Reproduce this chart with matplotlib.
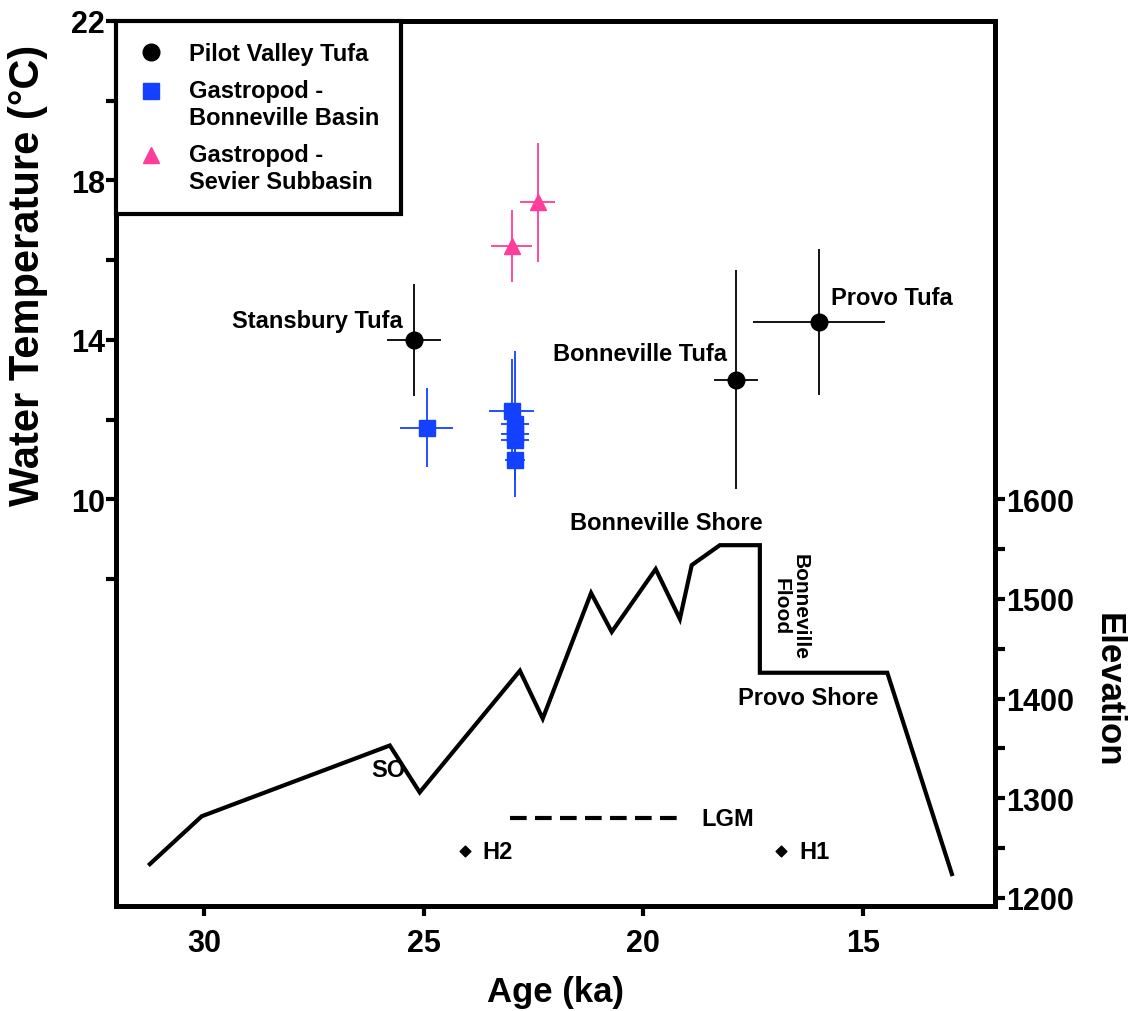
import matplotlib
matplotlib.use("Agg")
import numpy as np
import matplotlib.pyplot as plt
from matplotlib.lines import Line2D
from matplotlib.legend_handler import HandlerLine2D
from matplotlib.ticker import FixedLocator

plt.rcParams['font.family'] = ['Liberation Sans', 'DejaVu Sans']
plt.rcParams['font.weight'] = 'bold'

BLUE = '#1440ff'
PINK = '#ff3c9a'

# tufa temperatures (age ka, temp C, errors)
tufa_age = [25.22, 17.9, 16.0]
tufa_temp = [14.0, 13.0, 14.45]
tufa_age_err = [0.62, 0.5, 1.5]
tufa_temp_err = [1.4, 2.75, 1.83]
tufa_names = ['Stansbury Tufa', 'Bonneville Tufa', 'Provo Tufa']

# gastropods, Bonneville basin
bb_age = [24.93, 23.0, 22.92, 22.92, 22.92, 22.92]
bb_temp = [11.8, 12.22, 11.89, 11.65, 11.48, 10.98]
bb_age_err = [0.6, 0.51, 0.31, 0.31, 0.31, 0.22]
bb_temp_err = [1.0, 1.3, 1.83, 0.6, 0.7, 0.5]

# gastropods, Sevier subbasin
sv_age = [23.0, 22.4]
sv_temp = [16.35, 17.45]
sv_age_err = [0.46, 0.4]
sv_temp_err = [0.9, 1.5]

# lake level curve (age ka, elevation m)
lake_age = [31.23, 30.05, 25.77, 25.09, 22.81, 22.29, 21.19, 20.72, 19.72,
            19.17, 18.9, 18.26, 17.35, 17.35, 14.45, 12.98]
lake_elev = [1234, 1282, 1353, 1306, 1428, 1380, 1506, 1467, 1530,
             1480, 1534, 1554, 1554, 1426, 1426, 1224]

lgm_age = [23.04, 19.06]
lgm_elev = 1280
heinrich_age = [24.06, 16.86]
heinrich_names = ['H2', 'H1']
heinrich_elev = 1247


class FirstLineHandler(HandlerLine2D):
    # puts the marker next to the first line of a two-line label
    def __init__(self, shift=0.0, **kw):
        super().__init__(**kw)
        self.shift = shift

    def create_artists(self, legend, orig_handle, xdescent, ydescent,
                       width, height, fontsize, trans):
        arts = super().create_artists(legend, orig_handle, xdescent, ydescent,
                                      width, height, fontsize, trans)
        for a in arts:
            a.set_ydata(np.asarray(a.get_ydata()) + self.shift * fontsize)
        return arts


fig = plt.figure(figsize=(11.34, 10.12), dpi=100)
ax = fig.add_axes([0.1023, 0.1038, 0.7751, 0.8745])
ax2 = ax.twinx()

ax.errorbar(tufa_age, tufa_temp, xerr=tufa_age_err, yerr=tufa_temp_err,
            fmt='o', color='black', ms=12, elinewidth=1.3, capsize=0, zorder=3)
ax.errorbar(bb_age, bb_temp, xerr=bb_age_err, yerr=bb_temp_err,
            fmt='s', color=BLUE, ms=12, elinewidth=1.3, capsize=0, zorder=3)
ax.errorbar(sv_age, sv_temp, xerr=sv_age_err, yerr=sv_temp_err,
            fmt='^', color=PINK, ms=11, elinewidth=1.3, capsize=0, zorder=3)

ax.text(25.47, 14.48, tufa_names[0], ha='right', va='center', fontsize=17)
ax.text(18.1, 13.65, tufa_names[1], ha='right', va='center', fontsize=17)
ax.text(15.73, 15.06, tufa_names[2], ha='left', va='center', fontsize=17)

ax2.plot(lake_age, lake_elev, color='black', lw=3, solid_joinstyle='miter')
ax2.plot(lgm_age, [lgm_elev] * 2, color='black', lw=3, dashes=(4, 2))
ax2.text(18.67, lgm_elev, 'LGM', ha='left', va='center', fontsize=17)
ax2.scatter(heinrich_age, [heinrich_elev] * 2, marker='D', s=30, color='black')
for a, n in zip(heinrich_age, heinrich_names):
    ax2.text(a - 0.4, heinrich_elev, n, ha='left', va='center', fontsize=17)

ax2.text(19.47, 1577, 'Bonneville Shore', ha='center', va='center', fontsize=17)
ax2.text(16.64, 1493, 'Bonneville\nFlood', ha='center', va='center', fontsize=15,
         rotation=-90, multialignment='center', linespacing=1.0)
ax2.text(16.24, 1401, 'Provo Shore', ha='center', va='center', fontsize=17)
ax2.text(25.81, 1329, 'SO', ha='center', va='center', fontsize=17)

ax.set_xlim(32, 12)
ax.set_ylim(-0.2, 22)
ax2.set_ylim(1192, 2080)

ax.xaxis.set_major_locator(FixedLocator([30, 25, 20, 15]))
ax.yaxis.set_major_locator(FixedLocator([10, 14, 18, 22]))
ax.yaxis.set_minor_locator(FixedLocator([8, 12, 16, 20]))
ax2.yaxis.set_major_locator(FixedLocator([1200, 1300, 1400, 1500, 1600]))
ax2.yaxis.set_minor_locator(FixedLocator([1250, 1350, 1450, 1550]))

for a in (ax, ax2):
    for s in a.spines.values():
        s.set_linewidth(3.5)
    a.tick_params(which='major', length=7, width=3, labelsize=22)
    a.tick_params(which='minor', length=7, width=3)
    a.tick_params(axis='x', pad=9)
    a.tick_params(axis='y', pad=1)
    for lab in a.get_xticklabels() + a.get_yticklabels():
        lab.set_fontweight('bold')

ax.set_xlabel('Age (ka)', fontsize=25, fontweight='bold', labelpad=12)
ax.set_ylabel('Water Temperature (°C)', fontsize=30, fontweight='bold')
ax.yaxis.set_label_coords(-0.077, 0.714)
ax2.set_ylabel('Elevation', fontsize=25, fontweight='bold', rotation=270)
ax2.yaxis.set_label_coords(1.148, 0.245)

handles = [
    Line2D([], [], ls='none', marker='o', ms=12, color='black'),
    Line2D([], [], ls='none', marker='s', ms=12, color=BLUE),
    Line2D([], [], ls='none', marker='^', ms=11, color=PINK),
]
labels = ['Pilot Valley Tufa', 'Gastropod -\nBonneville Basin',
          'Gastropod -\nSevier Subbasin']
leg = ax2.legend(handles, labels, loc='upper left', bbox_to_anchor=(0, 1),
                 borderaxespad=0, fancybox=False, edgecolor='black',
                 fontsize=17, handlelength=1.2, handletextpad=1.0,
                 borderpad=0.9, labelspacing=0.6, framealpha=1,
                 handler_map={handles[1]: FirstLineHandler(0.6),
                              handles[2]: FirstLineHandler(0.6)})
leg.get_frame().set_linewidth(3)
for t in leg.get_texts():
    t.set_fontweight('bold')

fig.savefig('out.png', dpi=100)
